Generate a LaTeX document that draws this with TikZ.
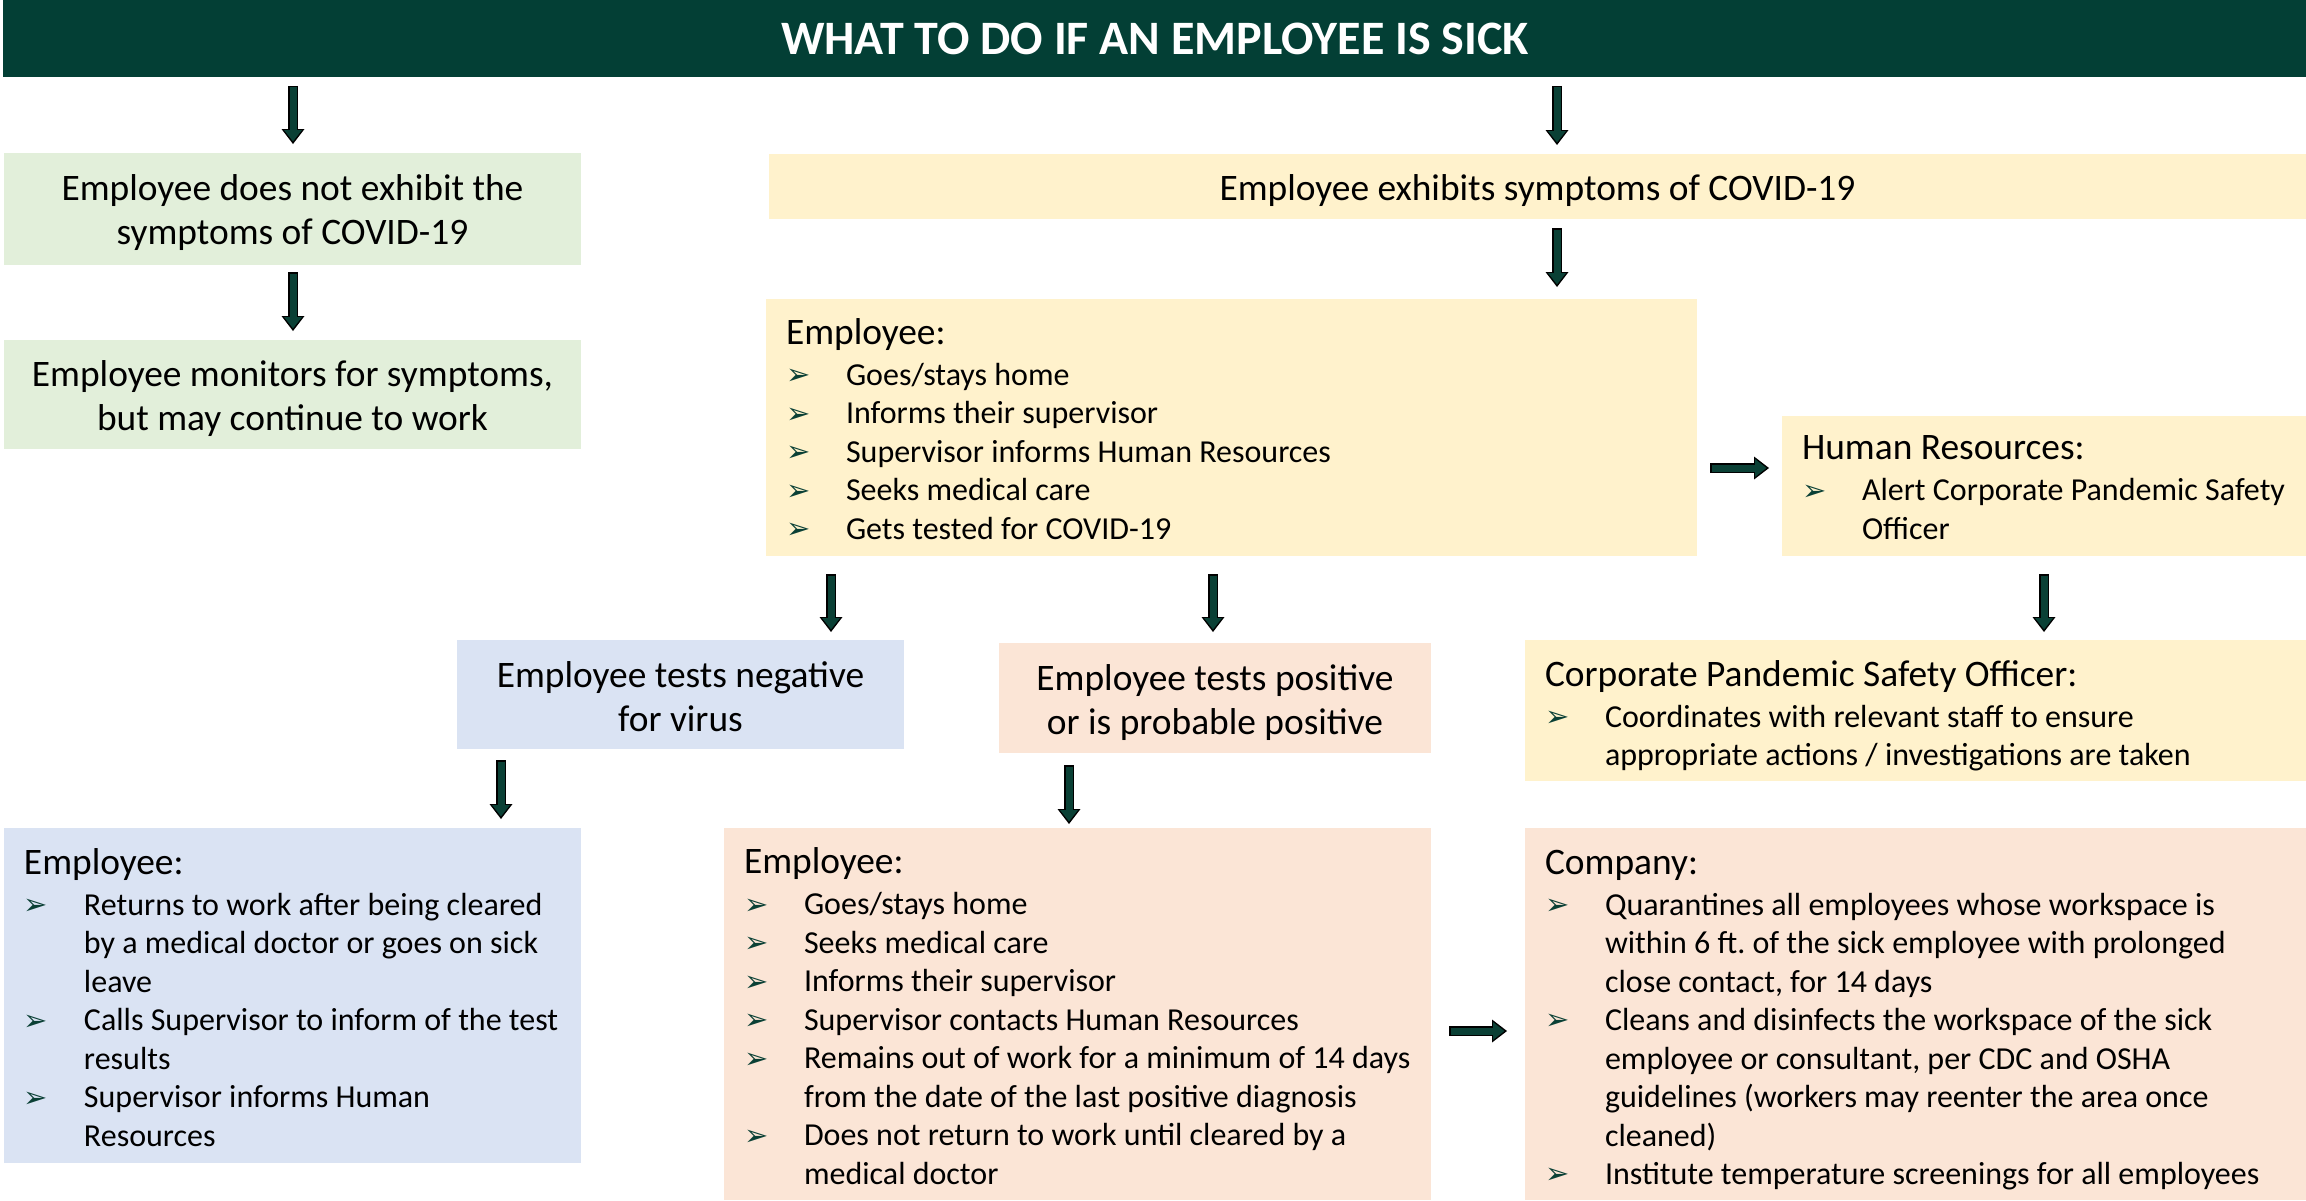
\documentclass[tikz,border=0pt]{standalone}
\usepackage{fontspec}
\setmainfont{Carlito}
\newfontfamily\djv{DejaVu Sans}
\usetikzlibrary{arrows.meta}
\frenchspacing
\definecolor{titlegreen}{HTML}{033F35}
\definecolor{arrgreen}{HTML}{0A4035}
\definecolor{boxgreen}{HTML}{E2EFDA}
\definecolor{boxyellow}{HTML}{FFF2CC}
\definecolor{boxblue}{HTML}{DAE3F3}
\definecolor{boxpeach}{HTML}{FBE5D6}
\newcommand\bul{{\djv\fontsize{14.5}{14.5}\selectfont\color{arrgreen}➢}}
\newcommand\tstrut[1][18pt]{\rule{0pt}{#1}}
\newcommand\hd[2][18pt]{\noindent{\fontsize{18.7}{22}\selectfont\tstrut[#1]\mbox{#2}\par}\vspace{1.25pt}}
\newcommand\bl[1]{\par\noindent\makebox[30pt][l]{\raisebox{0.3pt}{\bul}}\mbox{#1}\par}
\newcommand\cl[1]{\par\noindent\hspace*{30pt}\mbox{#1}\par}
\newcommand\barrow[4]{%
  \draw[arrout, shorten <=#3, shorten >=#4] #1 -- #2;
  \draw[arrin, shorten <=#3+0.75pt, shorten >=#4+1.3pt] #1 -- #2;}
\tikzset{
  arrout/.style={line width=5pt, draw=black, -{Triangle[length=7.5pt,width=11.5pt,line width=0pt]}},
  arrin/.style={line width=3.5pt, draw=arrgreen, -{Triangle[length=5.7pt,width=9pt,line width=0pt]}},
  cbox/.style={inner sep=0pt, outer sep=0pt, anchor=north west, align=flush center, font=\fontsize{18.7}{22}\selectfont},
  lbox/.style={inner sep=0pt, outer sep=0pt, anchor=north west, align=flush left, font=\fontsize{16}{19.25}\selectfont},
}
\begin{document}
\begin{tikzpicture}[x=0.5pt, y=-0.5pt]
\useasboundingbox (0,0) rectangle (2306,1200);
% title
\node[inner sep=0pt, anchor=north west, fill=titlegreen, minimum width=1151.5pt, minimum height=38.5pt,
      text=white, font=\fontsize{24}{28}\selectfont\bfseries] (title) at (3,0) {WHAT TO DO IF AN EMPLOYEE IS SICK};
% centred boxes
\node[cbox, fill=boxgreen, minimum width=288.5pt, minimum height=56pt, text width=288.5pt] (g1) at (4,153)
  {\tstrut[17pt]Employee does not exhibit the\\symptoms of COVID-19};
\node[cbox, fill=boxgreen, minimum width=288.5pt, minimum height=54.5pt, text width=288.5pt] (g2) at (4,340)
  {\tstrut[17pt]Employee monitors for symptoms,\\but may continue to work};
\node[cbox, fill=boxyellow, minimum width=768.5pt, minimum height=32.5pt, text width=768.5pt] (ytop) at (769,154)
  {\tstrut[17pt]Employee exhibits symptoms of COVID-19};
\node[cbox, fill=boxblue, minimum width=223.5pt, minimum height=54.5pt, text width=223.5pt] (neg) at (457,640)
  {\tstrut[15pt]Employee tests negative\\for virus};
\node[cbox, fill=boxpeach, minimum width=216pt, minimum height=55pt, text width=216pt] (pos) at (999,643)
  {\tstrut[17pt]Employee tests positive\\or is probable positive};
% list boxes
\node[lbox, fill=boxyellow, minimum width=465.5pt, minimum height=128.5pt, text width=445.5pt] (emp) at (766,299) {%
  \hd[14.5pt]{Employee:}
  \bl{Goes/stays home}
  \bl{Informs their supervisor}
  \bl{Supervisor informs Human Resources}
  \bl{Seeks medical care}
  \bl{Gets tested for COVID-19}};
\node[lbox, fill=boxyellow, minimum width=262pt, minimum height=70pt, text width=242pt] (hr) at (1782,416) {%
  \hd[13.5pt]{Human Resources:}
  \bl{Alert Corporate Pandemic Safety}
  \cl{Officer}};
\node[lbox, fill=boxyellow, minimum width=390.5pt, minimum height=70.5pt, text width=370.5pt] (cpso) at (1525,640) {%
  \hd[18pt]{Corporate Pandemic Safety Officer:}
  \bl{Coordinates with relevant staff to ensure}
  \cl{appropriate actions / investigations are taken}};
\node[lbox, fill=boxblue, minimum width=288.5pt, minimum height=167.5pt, text width=268.5pt] (blb) at (4,828) {%
  \hd[15pt]{Employee:}
  \bl{Returns to work after being cleared}
  \cl{by a medical doctor or goes on sick}
  \cl{leave}
  \bl{Calls Supervisor to inform of the test}
  \cl{results}
  \bl{Supervisor informs Human}
  \cl{Resources}};
\node[lbox, fill=boxpeach, minimum width=353.5pt, minimum height=186pt, text width=333.5pt] (bm) at (724,828) {%
  \hd[15pt]{Employee:}
  \bl{Goes/stays home}
  \bl{Seeks medical care}
  \bl{Informs their supervisor}
  \bl{Supervisor contacts Human Resources}
  \bl{Remains out of work for a minimum of 14 days}
  \cl{from the date of the last positive diagnosis}
  \bl{Does not return to work until cleared by a}
  \cl{medical doctor}};
\node[lbox, fill=boxpeach, minimum width=390.5pt, minimum height=186pt, text width=370.5pt] (comp) at (1525,828) {%
  \hd[18pt]{Company:}
  \bl{Quarantines all employees whose workspace is}
  \cl{within 6 ft. of the sick employee with prolonged}
  \cl{close contact, for 14 days}
  \bl{Cleans and disinfects the workspace of the sick}
  \cl{employee or consultant, per CDC and OSHA}
  \cl{guidelines (workers may reenter the area once}
  \cl{cleaned)}
  \bl{Institute temperature screenings for all employees}};
% arrow guide coordinates
\coordinate (xa) at (293,0);
\coordinate (xb) at (1557,0);
\coordinate (xc) at (831,0);
\coordinate (xd) at (1213,0);
\coordinate (xe) at (2044,0);
\coordinate (xf) at (501,0);
\coordinate (xg) at (1069,0);
\coordinate (ya) at (0,468);
\coordinate (yb) at (0,1031);
% arrows
\barrow{(title.south -| xa)}{(g1.north -| xa)}{4pt}{4.5pt}
\barrow{(title.south -| xb)}{(ytop.north -| xb)}{4pt}{4.5pt}
\barrow{(g1.south -| xa)}{(g2.north -| xa)}{3.5pt}{4.5pt}
\barrow{(ytop.south -| xb)}{(emp.north -| xb)}{4.5pt}{6pt}
\barrow{(emp.east |- ya)}{(hr.west |- ya)}{6.5pt}{6.5pt}
\barrow{(emp.south -| xc)}{(neg.north -| xc)}{9pt}{4pt}
\barrow{(emp.south -| xd)}{(pos.north -| xd)}{9pt}{5.5pt}
\barrow{(hr.south -| xe)}{(cpso.north -| xe)}{9pt}{4pt}
\barrow{(neg.south -| xf)}{(blb.north -| xf)}{5.5pt}{4.5pt}
\barrow{(pos.south -| xg)}{(bm.north -| xg)}{6pt}{2pt}
\barrow{(bm.east |- yb)}{(comp.west |- yb)}{9pt}{9pt}
\end{tikzpicture}
\end{document}
